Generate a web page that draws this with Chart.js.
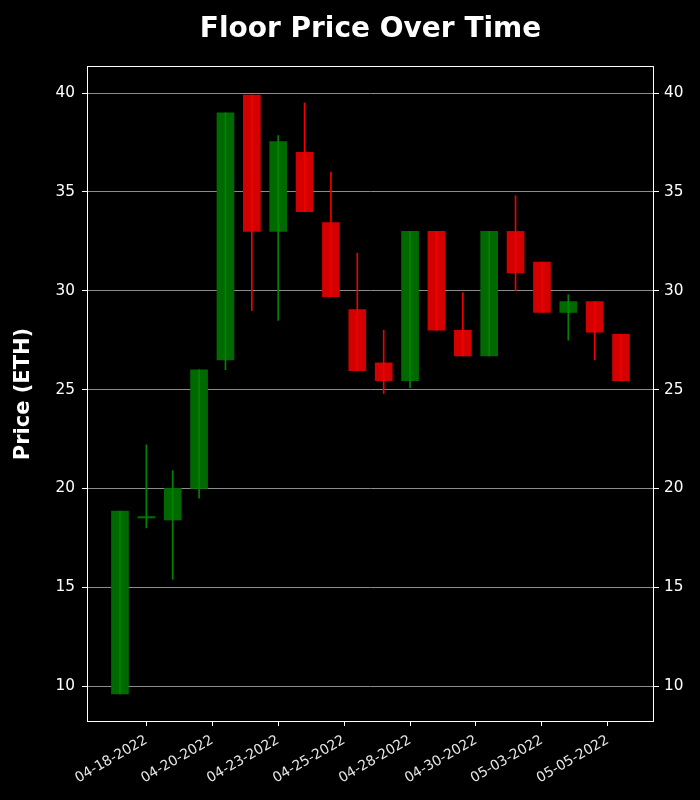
<!DOCTYPE html>
<html>
<head>
<meta charset="utf-8">
<script src="https://cdn.jsdelivr.net/npm/chart.js@4/dist/chart.umd.min.js"></script>
<style>
  html, body { margin: 0; padding: 0; background: #000; }
  .chart-wrap { width: 700px; height: 800px; position: relative; }
</style>
</head>
<body>
<div class="chart-wrap"><canvas id="floorChart"></canvas></div>
<script>
/* daily candles, 04-17-2022 .. 05-06-2022 */
const dates = ['04-17-2022','04-18-2022','04-19-2022','04-20-2022','04-21-2022',
  '04-22-2022','04-23-2022','04-24-2022','04-25-2022','04-26-2022',
  '04-27-2022','04-28-2022','04-29-2022','04-30-2022','05-01-2022',
  '05-02-2022','05-03-2022','05-04-2022','05-05-2022','05-06-2022'];

const openP  = [9.6, 18.5, 18.4, 20.0, 26.5, 39.9, 33.0, 37.0, 33.45, 29.05,
                26.35, 25.45, 33.0, 28.0, 26.7, 33.0, 31.45, 28.9, 29.45, 27.8];
const highP  = [18.85, 22.2, 20.9, 26.0, 39.0, 39.9, 37.85, 39.5, 36.0, 31.9,
                28.0, 33.0, 33.0, 29.9, 33.0, 34.8, 31.45, 29.8, 29.45, 27.8];
const lowP   = [9.6, 18.0, 15.4, 19.5, 26.0, 29.0, 28.5, 34.0, 29.7, 25.95,
                24.8, 25.1, 28.0, 26.7, 26.7, 30.0, 28.9, 27.5, 26.5, 25.45];
const closeP = [18.85, 18.5, 20.0, 26.0, 39.0, 33.0, 37.55, 34.0, 29.7, 25.95,
                25.45, 33.0, 28.0, 26.7, 33.0, 30.9, 28.9, 29.45, 27.9, 25.45];

// x tick positions (candle index) and y ticks
const xTickIdx = [1, 3.5, 6, 8.5, 11, 13.5, 16, 18.5];
const yTicks = [10, 15, 20, 25, 30, 35, 40];

const up = closeP.map((c, i) => c >= openP[i]);

Chart.defaults.font.family = "'DejaVu Sans', sans-serif";
Chart.defaults.color = '#fff';

// white frame round the plot
const frame = {
  id: 'frame',
  afterDraw(chart) {
    const { ctx, chartArea: a } = chart;
    ctx.save();
    ctx.strokeStyle = '#fff';
    ctx.lineWidth = 1;
    const l = Math.round(a.left) + 0.5, t = Math.round(a.top) + 0.5;
    const r = Math.round(a.right) - 0.5, b = Math.round(a.bottom) - 0.5;
    ctx.strokeRect(l, t, r - l, b - t);
    ctx.restore();
  }
};

const yCommon = {
  type: 'linear',
  min: 8.18,
  max: 41.37,
  afterBuildTicks: s => { s.ticks = yTicks.map(v => ({ value: v })); },
  border: { display: false }
};

new Chart(document.getElementById('floorChart'), {
  type: 'bar',
  data: {
    datasets: [
      {
        label: 'wick',
        data: dates.map((d, i) => ({ x: i, y: [lowP[i], highP[i]] })),
        backgroundColor: up.map(u => u ? '#008400' : '#f00000'),
        barThickness: 1,
        grouped: false,
        order: 0
      },
      {
        label: 'body',
        data: dates.map((d, i) => ({ x: i, y: [openP[i], closeP[i]] })),
        backgroundColor: up.map(u => u ? '#006a00' : '#d40000'),
        barThickness: 17,
        minBarLength: 1.5,
        grouped: false,
        order: 1
      }
    ]
  },
  options: {
    responsive: true,
    maintainAspectRatio: false,
    animation: false,
    layout: { padding: 0 },
    plugins: {
      legend: { display: false },
      tooltip: { enabled: false },
      title: {
        display: true,
        text: 'Floor Price Over Time',
        fullSize: false,
        color: '#fff',
        font: { size: 28, weight: 'bold' },
        padding: { top: 13, bottom: 19.4 }
      }
    },
    scales: {
      x: {
        type: 'linear',
        min: -1.25,
        max: 20.25,
        offset: false,
        afterBuildTicks: s => { s.ticks = xTickIdx.map(v => ({ value: v })); },
        afterFit: s => { s.height = 78; },
        grid: { display: true, offset: false, color: 'rgba(0,0,0,0)', tickColor: '#fff', tickLength: 4 },
        border: { display: false },
        ticks: {
          autoSkip: false,
          minRotation: 30,
          maxRotation: 30,
          padding: 6,
          color: '#e6e6e6',
          font: { size: 13.9 },
          callback: v => dates[Math.floor(v)]
        }
      },
      y: {
        ...yCommon,
        position: 'left',
        z: 1,
        afterFit: s => { s.width = 87; },
        grid: { color: '#8c8c8c', lineWidth: 1, tickColor: '#fff', tickLength: 5 },
        ticks: { padding: 7, color: '#fff', font: { size: 15.3 } },
        title: {
          display: true,
          text: 'Price (ETH)',
          color: '#fff',
          font: { size: 21, weight: 'bold' },
          padding: { top: 11.4, bottom: 0 }
        }
      },
      y2: {
        ...yCommon,
        position: 'right',
        afterFit: s => { s.width = 46; },
        grid: { drawOnChartArea: false, tickColor: '#fff', tickLength: 5 },
        ticks: { padding: 5, color: '#fff', font: { size: 15.3 } }
      }
    }
  },
  plugins: [frame]
});
</script>
</body>
</html>
